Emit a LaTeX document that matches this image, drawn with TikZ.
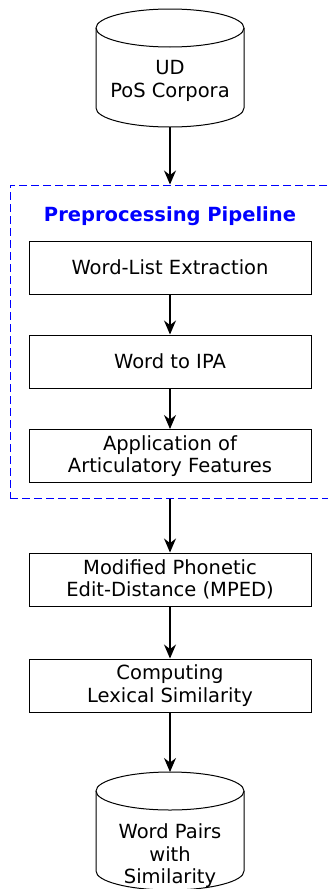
\documentclass[tikz,border=0pt]{standalone}
\usepackage{fontspec}
\setmainfont{DejaVu Sans}
\usetikzlibrary{arrows.meta,positioning}

\begin{document}
\begin{tikzpicture}[x=1pt,y=-1pt,
        stage/.style={draw,line width=1pt,minimum width=282pt,minimum height=53pt,
            align=center,font=\fontsize{19.5}{22.5}\selectfont},
        store/.style={minimum width=148pt,minimum height=118pt,inner sep=0pt,outer sep=0pt},
        storetext/.style={align=center,font=\fontsize{19.5}{22.5}\selectfont},
        flow/.style={-{Stealth[length=14pt,width=12pt]},line width=1.3pt}]
    \useasboundingbox (0,0) rectangle (328,889);

    % Data stores
    \node[store] (corpora) at (170,68) {};
    \node[store] (pairs) at (170,831) {};
    \foreach \db in {corpora,pairs} {
        \draw[line width=1pt] ([yshift=-19pt]\db.north west)
            -- ([yshift=19pt]\db.south west)
            arc[start angle=180,end angle=360,x radius=74pt,y radius=19pt]
            -- ([yshift=-19pt]\db.north east);
        \draw[line width=1pt] ([yshift=-19pt]\db.north) ellipse[x radius=74pt,y radius=19pt];
    }
    \node[storetext] (corporatext) at (170,81) {UD\\PoS Corpora};
    \node[storetext] (pairstext) at (170,856) {Word Pairs\\with\\Similarity};

    % Preprocessing group
    \node[draw=blue,dash pattern=on 8pt off 4pt,line width=1pt,
        minimum width=320pt,minimum height=313pt] (prep) at (170,341.5) {};
    \node[text=blue,font=\fontsize{19.5}{22.5}\selectfont\bfseries] (preptitle) at (170,216)
        {Preprocessing Pipeline};

    % Steps
    \node[stage] (extract) at (170,267.5) {Word-List Extraction};
    \node[stage] (ipa) at (170,361.5) {Word to IPA};
    \node[stage] (features) at (170,456) {Application of\\Articulatory Features};
    \node[stage] (mped) at (170,579.5) {Modified Phonetic\\Edit-Distance (MPED)};
    \node[stage] (lexsim) at (170,685.5) {Computing\\Lexical Similarity};

    % Arrows
    \draw[flow] (corpora) -- (prep);
    \draw[flow] (extract) -- (ipa);
    \draw[flow] (ipa) -- (features);
    \draw[flow] (prep) -- (mped);
    \draw[flow] (mped) -- (lexsim);
    \draw[flow] (lexsim) -- (pairs);
\end{tikzpicture}
\end{document}
